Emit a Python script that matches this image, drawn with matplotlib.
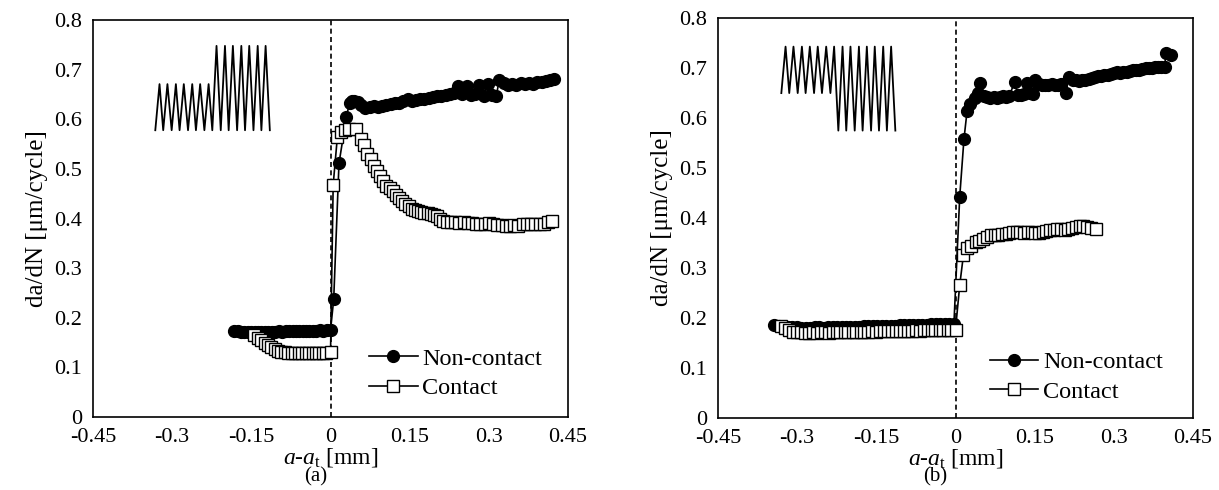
import matplotlib
matplotlib.use("Agg")
import matplotlib.pyplot as plt

plt.rcParams["font.family"] = ["Liberation Serif", "DejaVu Serif"]
plt.rcParams["mathtext.fontset"] = "custom"
plt.rcParams["mathtext.rm"] = "Liberation Serif"
plt.rcParams["mathtext.it"] = "Liberation Serif:italic"

# ---- panel (a): max load increased ----
a_nc_x = [-0.183, -0.176, -0.170, -0.163, -0.157, -0.150, -0.144, -0.137, -0.131, -0.124,
          -0.118, -0.111, -0.105, -0.098, -0.092, -0.085, -0.079, -0.072, -0.066, -0.059,
          -0.053, -0.046, -0.040, -0.033, -0.027, -0.020, -0.014, -0.007, 0.000,
          0.006, 0.016, 0.030, 0.036,
          0.040, 0.045, 0.052, 0.058, 0.066, 0.074, 0.082, 0.090, 0.098, 0.106,
          0.114, 0.122, 0.130, 0.138, 0.146, 0.154, 0.162, 0.170, 0.178, 0.186,
          0.194, 0.202, 0.210, 0.218, 0.226, 0.234, 0.242, 0.250, 0.258, 0.266,
          0.274, 0.282, 0.290, 0.298, 0.306, 0.314, 0.320, 0.328, 0.336, 0.344,
          0.352, 0.360, 0.368, 0.376, 0.384, 0.392, 0.400, 0.408, 0.416, 0.424]
a_nc_y = [0.174, 0.173, 0.172, 0.172, 0.171, 0.172, 0.171, 0.171, 0.172, 0.171,
          0.172, 0.172, 0.172, 0.173, 0.172, 0.173, 0.173, 0.173, 0.173, 0.174,
          0.173, 0.174, 0.174, 0.174, 0.174, 0.175, 0.174, 0.175, 0.175,
          0.237, 0.511, 0.605, 0.633,
          0.636, 0.636, 0.635, 0.628, 0.622, 0.624, 0.626, 0.625, 0.627, 0.628,
          0.630, 0.632, 0.633, 0.636, 0.640, 0.636, 0.638, 0.640, 0.641, 0.643,
          0.645, 0.646, 0.648, 0.650, 0.652, 0.654, 0.668, 0.652, 0.668, 0.650,
          0.652, 0.670, 0.648, 0.672, 0.650, 0.648, 0.680, 0.674, 0.670, 0.672,
          0.669, 0.673, 0.671, 0.674, 0.672, 0.676, 0.675, 0.678, 0.680, 0.682]

a_c_x = [-0.145, -0.138, -0.132, -0.125, -0.119, -0.112, -0.106, -0.099, -0.093, -0.086,
         -0.080, -0.073, -0.067, -0.060, -0.054, -0.047, -0.041, -0.034, -0.028, -0.021,
         -0.015, -0.008, 0.000,
         0.005, 0.013, 0.020, 0.027, 0.035, 0.048,
         0.058, 0.063, 0.070, 0.076, 0.082, 0.088, 0.094, 0.100, 0.106, 0.112,
         0.118, 0.124, 0.130, 0.136, 0.142, 0.148, 0.154, 0.160, 0.166, 0.172,
         0.178, 0.184, 0.190, 0.196, 0.202, 0.208, 0.214, 0.220, 0.228, 0.236,
         0.244, 0.252, 0.260, 0.268, 0.276, 0.284, 0.292, 0.300, 0.308, 0.316,
         0.324, 0.332, 0.340, 0.348, 0.356, 0.364, 0.372, 0.380, 0.388, 0.396,
         0.404, 0.412, 0.420]
a_c_y = [0.165, 0.160, 0.155, 0.150, 0.146, 0.141, 0.137, 0.134, 0.132, 0.130,
         0.129, 0.128, 0.128, 0.128, 0.128, 0.128, 0.128, 0.128, 0.128, 0.128,
         0.129, 0.129, 0.130,
         0.468, 0.565, 0.575, 0.578, 0.580, 0.580,
         0.560, 0.548, 0.530, 0.520, 0.505, 0.495, 0.485, 0.475, 0.465, 0.462,
         0.455, 0.448, 0.442, 0.436, 0.430, 0.425, 0.420, 0.418, 0.416, 0.414,
         0.412, 0.411, 0.410, 0.408, 0.405, 0.400, 0.396, 0.394, 0.393, 0.393,
         0.392, 0.393, 0.392, 0.391, 0.390, 0.390, 0.390, 0.391, 0.389, 0.387,
         0.386, 0.385, 0.385, 0.386, 0.385, 0.388, 0.389, 0.389, 0.390, 0.390,
         0.390, 0.393, 0.395]

# ---- panel (b): min load decreased ----
b_nc_x = [-0.343, -0.335, -0.326, -0.318, -0.309, -0.301, -0.292, -0.284, -0.275, -0.267,
          -0.258, -0.250, -0.241, -0.233, -0.224, -0.216, -0.207, -0.199, -0.190, -0.182,
          -0.173, -0.165, -0.156, -0.148, -0.139, -0.131, -0.122, -0.114, -0.105, -0.097,
          -0.088, -0.080, -0.071, -0.063, -0.054, -0.046, -0.037, -0.029, -0.020, -0.012,
          -0.003,
          0.008, 0.016, 0.022, 0.028, 0.036, 0.042, 0.047,
          0.054, 0.060, 0.066, 0.072, 0.078, 0.084, 0.090, 0.096, 0.102, 0.112,
          0.118, 0.124, 0.130, 0.136, 0.142, 0.146, 0.151, 0.158, 0.164, 0.170,
          0.176, 0.182, 0.188, 0.194, 0.200, 0.209, 0.215, 0.222, 0.228, 0.234,
          0.240, 0.246, 0.252, 0.258, 0.264, 0.270, 0.276, 0.282, 0.288, 0.294,
          0.300, 0.306, 0.312, 0.318, 0.324, 0.330, 0.336, 0.342, 0.348, 0.354,
          0.360, 0.366, 0.372, 0.378, 0.384, 0.390, 0.396, 0.399, 0.409]
b_nc_y = [0.187, 0.184, 0.183, 0.182, 0.182, 0.182, 0.181, 0.181, 0.181, 0.182,
          0.182, 0.181, 0.182, 0.182, 0.182, 0.182, 0.183, 0.183, 0.183, 0.183,
          0.184, 0.184, 0.184, 0.184, 0.185, 0.185, 0.185, 0.185, 0.186, 0.186,
          0.186, 0.187, 0.187, 0.187, 0.187, 0.188, 0.188, 0.188, 0.188, 0.189,
          0.189,
          0.443, 0.558, 0.615, 0.628, 0.640, 0.650, 0.670,
          0.645, 0.642, 0.640, 0.642, 0.641, 0.643, 0.644, 0.642, 0.645, 0.672,
          0.646, 0.647, 0.649, 0.671, 0.650, 0.648, 0.676, 0.668, 0.667, 0.666,
          0.666, 0.668, 0.667, 0.666, 0.668, 0.650, 0.683, 0.677, 0.676, 0.675,
          0.676, 0.677, 0.678, 0.680, 0.682, 0.684, 0.685, 0.686, 0.687, 0.688,
          0.690, 0.692, 0.691, 0.693, 0.692, 0.694, 0.696, 0.697, 0.696, 0.699,
          0.700, 0.701, 0.701, 0.702, 0.702, 0.703, 0.703, 0.731, 0.727]

b_c_x = [-0.330, -0.323, -0.316, -0.308, -0.300, -0.293, -0.285, -0.278, -0.270, -0.263,
         -0.255, -0.248, -0.240, -0.233, -0.225, -0.218, -0.210, -0.203, -0.195, -0.188,
         -0.180, -0.173, -0.165, -0.158, -0.150, -0.143, -0.135, -0.128, -0.120, -0.113,
         -0.105, -0.098, -0.090, -0.083, -0.075, -0.068, -0.060, -0.053, -0.045, -0.038,
         -0.030, -0.023, -0.015, -0.008, 0.000,
         0.008, 0.015, 0.022, 0.030, 0.038, 0.045, 0.052, 0.060, 0.067, 0.074,
         0.081, 0.088, 0.095, 0.102, 0.109, 0.116, 0.123, 0.130, 0.137, 0.144,
         0.151, 0.158, 0.165, 0.172, 0.179, 0.186, 0.193, 0.200, 0.207, 0.214,
         0.221, 0.228, 0.235, 0.242, 0.249, 0.256, 0.266]
b_c_y = [0.185, 0.180, 0.176, 0.173, 0.172, 0.172, 0.171, 0.171, 0.172, 0.171,
         0.172, 0.172, 0.171, 0.172, 0.172, 0.172, 0.173, 0.172, 0.172, 0.173,
         0.173, 0.173, 0.173, 0.174, 0.173, 0.174, 0.174, 0.174, 0.174, 0.175,
         0.175, 0.174, 0.175, 0.175, 0.176, 0.175, 0.176, 0.176, 0.176, 0.176,
         0.177, 0.176, 0.177, 0.177, 0.177,
         0.266, 0.326, 0.340, 0.345, 0.352, 0.355, 0.358, 0.362, 0.366, 0.367,
         0.367, 0.368, 0.369, 0.371, 0.372, 0.372, 0.372, 0.371, 0.372, 0.372,
         0.371, 0.370, 0.373, 0.374, 0.376, 0.377, 0.378, 0.378, 0.376, 0.378,
         0.380, 0.383, 0.385, 0.384, 0.383, 0.380, 0.378]

# loading waveform sketches (vertices in data units)
wave_a_x = [-0.332, -0.324, -0.317, -0.309, -0.301, -0.293, -0.286, -0.278, -0.270, -0.262,
            -0.255, -0.247, -0.239, -0.231, -0.224, -0.216, -0.208, -0.200, -0.193, -0.185,
            -0.177, -0.169, -0.162, -0.154, -0.146, -0.138, -0.131, -0.123, -0.115]
wave_a_y = [0.578, 0.671, 0.578, 0.671, 0.578, 0.671, 0.578, 0.671, 0.578, 0.671,
            0.578, 0.671, 0.578, 0.671, 0.578, 0.748, 0.578, 0.748, 0.578, 0.748,
            0.578, 0.748, 0.578, 0.748, 0.578, 0.748, 0.578, 0.748, 0.578]
wave_b_x = [-0.330, -0.322, -0.315, -0.307, -0.299, -0.291, -0.284, -0.276, -0.268, -0.261,
            -0.253, -0.245, -0.237, -0.230, -0.222, -0.214, -0.207, -0.199, -0.191, -0.183,
            -0.176, -0.168, -0.160, -0.153, -0.145, -0.137, -0.130, -0.122, -0.114]
wave_b_y = [0.650, 0.743, 0.650, 0.743, 0.650, 0.743, 0.650, 0.743, 0.650, 0.743,
            0.650, 0.743, 0.650, 0.743, 0.575, 0.743, 0.575, 0.743, 0.575, 0.743,
            0.575, 0.743, 0.575, 0.743, 0.575, 0.743, 0.575, 0.743, 0.575]

x_ticks = [-0.45, -0.3, -0.15, 0, 0.15, 0.3, 0.45]
x_tick_labels = ["-0.45", "-0.3", "-0.15", "0", "0.15", "0.3", "0.45"]
y_ticks = [0, 0.1, 0.2, 0.3, 0.4, 0.5, 0.6, 0.7, 0.8]
y_tick_labels = ["0", "0.1", "0.2", "0.3", "0.4", "0.5", "0.6", "0.7", "0.8"]

fig = plt.figure(figsize=(12.19, 4.9), dpi=100)
ax_a = fig.add_axes([0.0763, 0.149, 0.3897, 0.810])
ax_b = fig.add_axes([0.589, 0.147, 0.3897, 0.816])

panels = [
    (ax_a, a_nc_x, a_nc_y, a_c_x, a_c_y, wave_a_x, wave_a_y, (0.581, 0.045)),
    (ax_b, b_nc_x, b_nc_y, b_c_x, b_c_y, wave_b_x, wave_b_y, (0.572, 0.038)),
]

for ax, ncx, ncy, cx, cy, wx, wy, leg_pos in panels:
    ax.axvline(0, color="black", linestyle=(0, (3, 2)), linewidth=1.2, zorder=1)
    ax.plot(wx, wy, color="black", linewidth=1.3, zorder=2)
    ax.plot(ncx, ncy, color="black", linewidth=1.2, marker="o", markersize=8.5,
            markerfacecolor="black", markeredgecolor="black", label="Non-contact", zorder=3)
    ax.plot(cx, cy, color="black", linewidth=1.2, marker="s", markersize=8,
            markerfacecolor="white", markeredgecolor="black", markeredgewidth=1.0,
            label="Contact", zorder=4)
    ax.set_xlim(-0.45, 0.45)
    ax.set_ylim(0, 0.8)
    ax.set_xticks(x_ticks)
    ax.set_xticklabels(x_tick_labels)
    ax.set_yticks(y_ticks)
    ax.set_yticklabels(y_tick_labels)
    ax.tick_params(length=0, labelsize=16, pad=8)
    for sp in ax.spines.values():
        sp.set_linewidth(1.2)
        sp.set_color("black")
    ax.set_xlabel("$a$-$a_\\mathrm{t}$ [mm]", fontsize=17, labelpad=-1)
    ax.set_ylabel("da/dN [μm/cycle]", fontsize=18, labelpad=4)
    ax.legend(loc="lower left", bbox_to_anchor=leg_pos, frameon=False, fontsize=17.5,
              handlelength=2.0, handletextpad=0.2, borderpad=0, borderaxespad=0,
              labelspacing=0.3)

fig.text(316 / 1219, 1 - 477 / 490, "(a)", ha="center", va="center", fontsize=15)
fig.text(935 / 1219, 1 - 477 / 490, "(b)", ha="center", va="center", fontsize=15)

fig.savefig("out.png", dpi=100)
